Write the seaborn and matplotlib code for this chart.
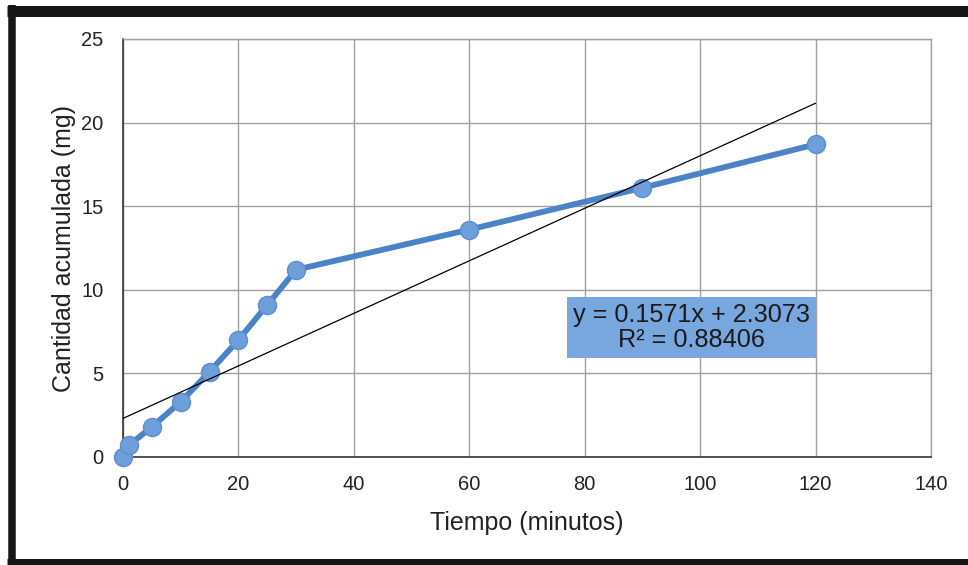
import matplotlib
matplotlib.use("Agg")
import matplotlib.pyplot as plt
import seaborn as sns
import numpy as np
import pandas as pd
from matplotlib.lines import Line2D

tiempo = [0, 1, 5, 10, 15, 20, 25, 30, 60, 90, 120]
cantidad = [0, 0.7, 1.8, 3.3, 5.1, 7.0, 9.1, 11.2, 13.6, 16.1, 18.7]
pendiente = 0.1571
intercepto = 2.3073
r2 = 0.88406
x_ticks = [0, 20, 40, 60, 80, 100, 120, 140]
y_ticks = [0, 5, 10, 15, 20, 25]

sns.set_theme(style="white")
plt.rcParams['font.family'] = ['Liberation Sans', 'DejaVu Sans']

df = pd.DataFrame({"Tiempo": tiempo, "Cantidad": cantidad})

W, H = 968, 565
fig = plt.figure(figsize=(W/100, H/100), dpi=100)
ax = fig.add_axes([123/W, 1-457/H, (931-123)/W, (457-39)/H])

ax.set_xlim(0, 140)
ax.set_ylim(0, 25)
ax.set_xticks(x_ticks)
ax.set_yticks(y_ticks)
ax.grid(True, color="#a0a0a0", linewidth=1.0)
ax.set_axisbelow(True)

sns.lineplot(data=df, x="Tiempo", y="Cantidad", ax=ax, color="#4a84c6",
             linewidth=4.2, marker="o", markersize=13,
             markerfacecolor="#6e9fdb", markeredgecolor="#5a8fd0",
             markeredgewidth=1.0, zorder=3, clip_on=False)

xt = np.array([0, 120])
ax.plot(xt, pendiente * xt + intercepto, color="black", linewidth=0.9, zorder=4)

ax.text(98.5, 7.74, f"y = {pendiente}x + {intercepto}\nR² = {r2}",
        ha="center", va="center", fontsize=18.2, color="#1a1a1a",
        linespacing=1.05,
        bbox=dict(boxstyle="square,pad=0.25", facecolor="#78a6de",
                  edgecolor="none"), zorder=5)

for s in ["top", "right"]:
    ax.spines[s].set_color("#a0a0a0")
    ax.spines[s].set_linewidth(1.0)
for s in ["left", "bottom"]:
    ax.spines[s].set_color("#333333")
    ax.spines[s].set_linewidth(1.2)

ax.tick_params(axis="both", which="major", direction="out", length=5,
               width=1, color="#333333", labelsize=14.5, labelcolor="#222222")
ax.tick_params(axis="x", pad=8)
ax.tick_params(axis="y", pad=9)
ax.set_xlabel("Tiempo (minutos)", fontsize=18, color="#222222", labelpad=12)
ax.set_ylabel("Cantidad acumulada (mg)", fontsize=18, color="#222222", labelpad=4)

# black frame (open on the right side, as in the cropped reference)
def fx(px):
    return px / W

def fy(py):
    return 1 - py / H

frame_kw = dict(transform=fig.transFigure, color="#151515", solid_capstyle="butt")
fig.add_artist(Line2D([fx(7), fx(W)], [fy(10.5), fy(10.5)], linewidth=11 * 0.72, **frame_kw))
fig.add_artist(Line2D([fx(11.5), fx(11.5)], [fy(5), fy(565)], linewidth=7.5 * 0.72, **frame_kw))
fig.add_artist(Line2D([fx(7), fx(W)], [fy(561.5), fy(561.5)], linewidth=7 * 0.72, **frame_kw))

fig.savefig("out.png", dpi=100, facecolor="white")
